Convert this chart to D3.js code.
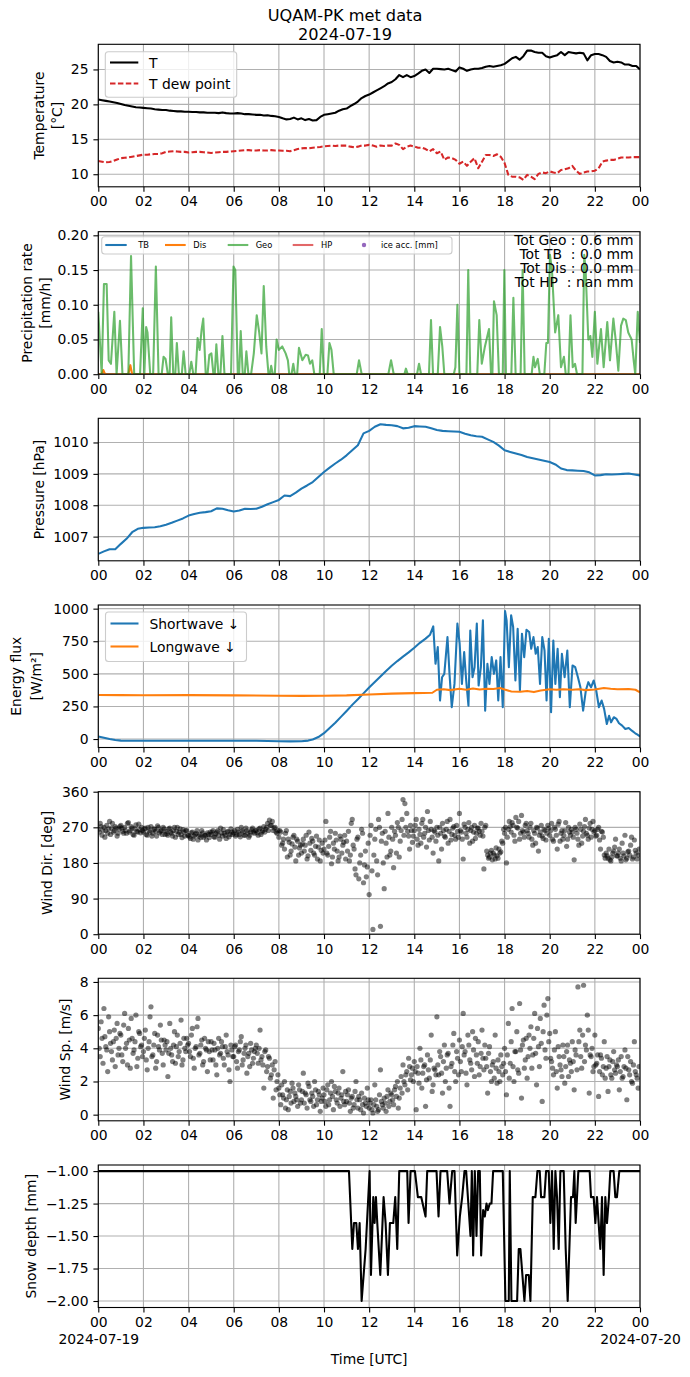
<!DOCTYPE html>
<html>
<head>
<meta charset="utf-8">
<script src="https://cdn.jsdelivr.net/npm/d3@7"></script>
<style>
  body { margin: 0; background: #fff; }
  text { font-family: "DejaVu Sans", sans-serif; fill: #000; }
</style>
</head>
<body>
<svg id="chart" width="690" height="1377"></svg>
<script>
// ---- data ----
const titleLines = ["UQAM-PK met data", "2024-07-19"];
const hourTicks = [0, 2, 4, 6, 8, 10, 12, 14, 16, 18, 20, 22, 24];

// air temperature and dew point, every 10 min from 00 to 24 UTC
const tempT = [
  20.7, 20.6, 20.5, 20.4, 20.3, 20.2,
  20.05, 19.9, 19.8, 19.7, 19.6, 19.55,
  19.5, 19.45, 19.4, 19.3, 19.25, 19.2,
  19.2, 19.1, 19.05, 19.0, 19.0, 18.95,
  18.95, 18.9, 18.9, 18.85, 18.85, 18.8,
  18.8, 18.8, 18.75, 18.85, 18.75, 18.7,
  18.7, 18.75, 18.7, 18.6, 18.6, 18.55,
  18.5, 18.5, 18.4, 18.45, 18.35, 18.3,
  18.2, 18.0, 17.85, 17.9, 18.1, 17.85,
  18.0, 17.75, 17.9, 17.7, 17.75, 18.2,
  18.5, 18.6, 18.7, 18.8, 19.1, 19.3,
  19.4, 19.75, 20.05, 20.4, 20.9, 21.2,
  21.4, 21.7, 22.0, 22.3, 22.6, 23.0,
  23.2, 23.6, 24.2, 23.9, 24.2, 23.9,
  24.05, 24.4, 24.8, 25.0, 24.5, 25.1,
  25.1, 25.05, 25.0, 25.1, 24.9, 24.7,
  25.3, 25.1, 24.8, 25.0, 25.1, 25.1,
  25.2, 25.4, 25.5, 25.4, 25.5, 25.6,
  25.8, 26.2, 26.6, 26.8, 26.4, 26.9,
  27.7, 27.7, 27.5, 27.4, 27.4, 26.9,
  26.7, 26.9, 27.05, 27.5, 27.05, 27.5,
  27.4, 27.3, 27.4, 27.3, 26.3, 27.05,
  27.2, 27.2, 27.05, 26.8, 26.2, 26.0,
  26.1, 26.0, 25.7, 25.7, 25.5, 25.5,
  25.0
];
const tempDew = [
  11.9, 11.8, 11.7, 11.75, 11.9, 12.1,
  12.3, 12.35, 12.4, 12.5, 12.6, 12.7,
  12.8, 12.8, 12.85, 12.9, 12.9, 13.0,
  13.2, 13.25, 13.3, 13.25, 13.2, 13.2,
  13.1, 13.15, 13.2, 13.2, 13.15, 13.1,
  13.05, 13.1, 13.15, 13.2, 13.2, 13.25,
  13.3, 13.35, 13.4, 13.45, 13.45, 13.4,
  13.4, 13.45, 13.4, 13.4, 13.45, 13.4,
  13.4, 13.35, 13.35, 13.3, 13.45, 13.6,
  13.7, 13.75, 13.7, 13.8, 13.85, 13.9,
  14.0, 14.05, 14.1, 14.05, 14.1, 14.1,
  14.1, 13.95, 13.85, 13.95, 14.1, 14.1,
  14.2, 14.1, 13.95, 14.1, 14.05, 14.1,
  14.1, 14.4, 14.2, 13.6, 13.95, 14.1,
  13.95, 13.8, 13.8, 13.6, 13.25, 13.6,
  13.0, 13.25, 12.05, 12.4, 12.3, 12.05,
  11.5, 11.8, 11.2, 11.8, 12.3, 10.85,
  11.8, 12.75, 12.75, 12.6, 12.85, 12.5,
  11.6, 9.9, 9.65, 9.65, 9.55, 9.2,
  9.9, 9.65, 9.3, 10.05, 10.25, 10.15,
  10.4, 10.25, 10.15, 10.6, 10.7, 10.85,
  11.2, 10.5, 10.05, 10.25, 10.4, 10.4,
  10.5, 10.85, 11.8, 11.95, 12.05, 12.05,
  12.2, 12.4, 12.4, 12.4, 12.45, 12.45,
  12.45
];

// precipitation rate [hour, mm/h]
const tbPoints = [[0, 0], [24, 0]];
const disPoints = [[0, 0], [0.15, 0], [0.22, 0.006], [0.3, 0], [1.33, 0], [1.42, 0.013], [1.5, 0], [24, 0]];
const geoPoints = [
  [0, 0.09], [0.15, 0], [0.25, 0.13], [0.37, 0.13], [0.46, 0.02], [0.56, 0.015], [0.71, 0.09], [0.81, 0],
  [0.96, 0.077], [1.07, 0], [1.33, 0], [1.45, 0.17], [1.59, 0], [1.85, 0], [1.97, 0.095], [2.04, 0],
  [2.12, 0.068], [2.18, 0.06], [2.30, 0], [2.43, 0], [2.55, 0.155], [2.67, 0], [2.81, 0], [2.89, 0.025],
  [2.98, 0.022], [3.08, 0], [3.16, 0], [3.23, 0.082], [3.32, 0], [3.41, 0], [3.48, 0.045], [3.57, 0],
  [3.70, 0], [3.78, 0.033], [3.87, 0], [4.03, 0], [4.12, 0.018], [4.21, 0], [4.31, 0], [4.40, 0.052],
  [4.49, 0.035], [4.58, 0.065], [4.65, 0.08], [4.76, 0], [4.84, 0], [4.92, 0.028], [5.01, 0.03], [5.10, 0],
  [5.16, 0], [5.23, 0.043], [5.32, 0], [5.41, 0], [5.50, 0.055], [5.59, 0], [5.88, 0], [5.99, 0.155],
  [6.07, 0.15], [6.18, 0], [6.24, 0], [6.31, 0.062], [6.40, 0], [6.49, 0], [6.56, 0.033], [6.65, 0],
  [6.77, 0], [6.89, 0.03], [7.02, 0.085], [7.13, 0.06], [7.23, 0.03], [7.33, 0.127], [7.44, 0.04], [7.54, 0],
  [7.60, 0], [7.66, 0.012], [7.73, 0], [7.82, 0], [7.90, 0.05], [8.00, 0.035], [8.15, 0.04], [8.30, 0.03],
  [8.40, 0.02], [8.46, 0], [8.56, 0], [8.64, 0.015], [8.71, 0], [8.81, 0], [8.89, 0.038], [9.04, 0.02],
  [9.19, 0.028], [9.29, 0.027], [9.38, 0.015], [9.48, 0.02], [9.57, 0], [9.81, 0], [9.90, 0.065], [9.99, 0],
  [10.15, 0], [10.24, 0.045], [10.33, 0.035], [10.43, 0], [11.45, 0], [11.55, 0.02], [11.67, 0],
  [12.85, 0], [12.97, 0.02], [13.09, 0], [13.56, 0], [13.63, 0.008], [13.71, 0], [14.12, 0], [14.21, 0.015],
  [14.30, 0], [14.65, 0], [14.74, 0.078], [14.83, 0], [15.04, 0], [15.14, 0.068], [15.24, 0.04], [15.33, 0],
  [15.75, 0], [15.82, 0.01], [15.91, 0.1], [16.00, 0], [16.31, 0], [16.39, 0.15], [16.48, 0], [16.79, 0],
  [16.88, 0.078], [16.99, 0.015], [17.13, 0.04], [17.31, 0.065], [17.40, 0], [17.46, 0], [17.53, 0.105],
  [17.65, 0.085], [17.75, 0], [17.92, 0], [17.99, 0.15], [18.06, 0], [18.30, 0], [18.39, 0.11], [18.49, 0],
  [18.71, 0], [18.80, 0.15], [18.89, 0], [19.20, 0], [19.28, 0.025], [19.35, 0.01], [19.47, 0.022], [19.56, 0],
  [19.76, 0], [19.85, 0.045], [19.92, 0.045], [20.01, 0.172], [20.10, 0.15], [20.24, 0.06], [20.38, 0.085],
  [20.50, 0.01], [20.63, 0.025], [20.71, 0], [20.83, 0], [20.92, 0.085], [21.02, 0.01], [21.12, 0.015],
  [21.21, 0], [21.45, 0], [21.53, 0.172], [21.59, 0.15], [21.71, 0.05], [21.80, 0.055], [21.89, 0.025],
  [22.00, 0.09], [22.11, 0.015], [22.27, 0.065], [22.39, 0.01], [22.55, 0.075], [22.67, 0.02], [22.82, 0.08],
  [22.92, 0.05], [23.04, 0.005], [23.16, 0.07], [23.26, 0.08], [23.37, 0.078], [23.48, 0.06], [23.63, 0.05],
  [23.72, 0.02], [23.79, 0], [23.90, 0.09], [24.00, 0.045]
];
const precipTotals = ["Tot Geo : 0.6 mm", "Tot TB  : 0.0 mm", "Tot Dis : 0.0 mm", "Tot HP  : nan mm"];
const precipLegend = ["TB", "Dis", "Geo", "HP", "ice acc. [mm]"];

// station pressure, every 15 min
const pressure = [
  1006.45, 1006.53, 1006.6, 1006.6, 1006.77, 1006.93, 1007.14, 1007.25,
  1007.28, 1007.29, 1007.3, 1007.33, 1007.38, 1007.44, 1007.51, 1007.58,
  1007.67, 1007.72, 1007.76, 1007.78, 1007.81, 1007.9, 1007.89, 1007.84,
  1007.8, 1007.83, 1007.89, 1007.88, 1007.89, 1007.95, 1008.03, 1008.1,
  1008.17, 1008.31, 1008.29, 1008.4, 1008.53, 1008.63, 1008.74, 1008.9,
  1009.06, 1009.2, 1009.33, 1009.45, 1009.59, 1009.75, 1009.91, 1010.29,
  1010.37, 1010.5, 1010.58, 1010.56, 1010.55, 1010.52, 1010.45, 1010.47,
  1010.52, 1010.51, 1010.5, 1010.45, 1010.4, 1010.37, 1010.36, 1010.35,
  1010.34, 1010.28, 1010.23, 1010.2, 1010.18, 1010.1, 1010.02, 1009.9,
  1009.75, 1009.7, 1009.65, 1009.6, 1009.54, 1009.5, 1009.46, 1009.42,
  1009.38, 1009.3, 1009.17, 1009.12, 1009.11, 1009.1, 1009.09, 1009.05,
  1008.95, 1008.96, 1008.99, 1008.98, 1008.99, 1009.0, 1009.01, 1008.98,
  1008.95
];

// downwelling radiation [hour, W/m2]
const shortwavePoints = [
  [0, 20], [0.25, 10], [0.5, 0], [0.75, -8], [1, -12], [2, -13], [4, -13], [6, -13], [7, -13],
  [8, -17], [8.5, -18], [9, -17], [9.3, -12], [9.5, -3], [9.75, 15], [10, 45], [10.25, 85],
  [10.5, 125], [10.75, 170], [11, 215], [11.25, 262], [11.5, 305], [11.75, 350], [12, 395],
  [12.25, 437], [12.5, 480], [12.75, 522], [13, 562], [13.25, 598], [13.5, 632], [13.75, 665],
  [14, 700], [14.25, 738], [14.5, 770], [14.7, 800], [14.84, 864], [14.94, 577], [15.04, 705],
  [15.14, 295], [15.23, 474], [15.33, 500], [15.47, 782], [15.56, 500], [15.66, 244], [15.78, 423],
  [15.91, 885], [16.01, 731], [16.11, 423], [16.21, 667], [16.3, 449], [16.4, 256], [16.48, 833],
  [16.58, 474], [16.67, 551], [16.77, 885], [16.85, 410], [16.95, 551], [17.04, 910], [17.14, 218],
  [17.24, 577], [17.33, 423], [17.43, 628], [17.53, 500], [17.63, 603], [17.72, 295], [17.82, 628],
  [17.92, 244], [18.02, 982], [18.09, 910], [18.19, 551], [18.29, 949], [18.38, 859], [18.48, 449],
  [18.58, 846], [18.68, 372], [18.77, 808], [18.87, 628], [18.97, 838], [19.09, 821], [19.18, 692],
  [19.28, 782], [19.38, 654], [19.47, 705], [19.57, 423], [19.67, 782], [19.77, 679], [19.86, 295],
  [19.96, 769], [20.06, 205], [20.16, 756], [20.25, 423], [20.35, 692], [20.45, 320], [20.54, 654],
  [20.66, 474], [20.78, 679], [20.89, 244], [21.01, 564], [21.13, 551], [21.25, 474], [21.36, 397],
  [21.48, 218], [21.6, 372], [21.71, 436], [21.83, 397], [21.95, 449], [22.06, 372], [22.18, 244],
  [22.3, 295], [22.41, 231], [22.53, 115], [22.63, 179], [22.72, 128], [22.84, 167], [22.96, 154],
  [23.07, 121], [23.21, 103], [23.35, 77], [23.5, 85], [23.64, 64], [23.79, 44], [23.89, 33], [24, 20]
];
const longwavePoints = [
  [0, 338], [1, 337], [2, 336], [4, 337], [6, 335], [8, 332], [9, 331], [10, 332], [11, 335],
  [12, 342], [13, 348], [14, 352], [14.8, 355], [15, 378], [15.3, 382], [15.6, 375], [16, 385],
  [16.3, 378], [16.6, 388], [16.9, 380], [17.2, 386], [17.5, 384], [17.8, 392], [18, 380],
  [18.3, 365], [18.7, 362], [19, 368], [19.3, 360], [19.6, 372], [20, 382], [20.3, 378],
  [20.6, 382], [21, 378], [21.3, 382], [21.6, 375], [22, 380], [22.2, 386], [22.4, 392],
  [22.7, 386], [23, 382], [23.5, 384], [23.8, 378], [24, 358]
];

// wind direction [deg] and speed [m/s]: samples on the 5-min mark ...
const windDir = [
  265, 280, 250, 270, 262, 255, 285, 268, 258, 272, 248, 266,
  275, 260, 270, 255, 282, 262, 268, 250, 276, 258, 264, 270,
  258, 268, 250, 262, 272, 255, 265, 248, 270, 260, 252, 266,
  260, 250, 268, 255, 262, 245, 270, 258, 252, 264, 248, 262,
  250, 242, 258, 248, 255, 238, 252, 262, 245, 250, 256, 244,
  252, 262, 245, 258, 250, 268, 248, 255, 242, 260, 252, 258,
  256, 248, 265, 252, 270, 258, 250, 262, 245, 258, 268, 255,
  262, 250, 268, 258, 272, 265, 280, 288, 275, 262, 270, 255,
  245, 258, 230, 215, 262, 240, 200, 228, 250, 185, 235, 218,
  205, 240, 225, 190, 258, 212, 235, 200, 248, 220, 185, 230,
  215, 285, 200, 245, 178, 230, 255, 210, 195, 240, 225, 250,
  235, 260, 200, 290, 215, 150, 245, 180, 265, 130, 210, 170,
  100, 275, 12, 240, 185, 290, 20, 255, 115, 230, 305, 200,
  270, 168, 250, 282, 195, 262, 340, 330, 305, 248, 275, 232,
  262, 290, 225, 252, 280, 245, 270, 310, 238, 265, 205, 258,
  270, 185, 255, 280, 248, 265, 230, 290, 252, 272, 240, 260,
  305, 258, 190, 270, 245, 282, 262, 235, 275, 255, 268, 250,
  260, 165, 275, 200, 195, 212, 205, 190, 198, 215, 208, 230,
  255, 180, 265, 272, 282, 250, 295, 268, 240, 300, 258, 275,
  262, 245, 280, 225, 255, 270, 210, 258, 248, 265, 238, 275,
  250, 280, 235, 265, 215, 285, 255, 240, 262, 222, 270, 250,
  258, 188, 265, 240, 278, 230, 260, 290, 250, 268, 245, 285,
  262, 250, 270, 215, 258, 200, 205, 192, 188, 195, 210, 240,
  198, 215, 185, 205, 250, 192, 210, 225, 190, 238, 205, 200
];
// ... and the samples 2.5 min later
const windDirMid = [
  258, 272, 262, 245, 275, 266, 252, 280, 262, 268, 255, 272,
  268, 255, 262, 280, 258, 272, 252, 266, 260, 278, 256, 262,
  266, 252, 270, 258, 248, 266, 260, 274, 256, 262, 270, 252,
  254, 266, 258, 248, 270, 260, 252, 266, 244, 258, 262, 250,
  246, 256, 240, 252, 262, 248, 244, 256, 250, 238, 252, 258,
  258, 246, 254, 262, 240, 256, 264, 250, 258, 246, 266, 252,
  262, 252, 258, 246, 262, 250, 268, 256, 250, 264, 258, 262,
  256, 266, 252, 262, 258, 270, 262, 275, 285, 268, 258, 262,
  262, 225, 240, 255, 195, 232, 210, 245, 220, 240, 200, 225,
  228, 210, 250, 198, 230, 242, 205, 222, 190, 238, 212, 205,
  238, 205, 222, 260, 195, 215, 238, 185, 248, 205, 232, 190,
  210, 185, 280, 225, 165, 240, 140, 200, 255, 175, 145, 230,
  250, 160, 200, 265, 150, 270, 235, 180, 260, 195, 245, 210,
  240, 260, 205, 270, 235, 290, 250, 270, 260, 215, 262, 248,
  275, 240, 265, 230, 290, 255, 220, 262, 285, 245, 262, 235,
  250, 270, 215, 262, 245, 285, 260, 238, 268, 250, 275, 245,
  262, 240, 278, 255, 265, 230, 270, 258, 242, 268, 260, 280,
  248, 270, 210, 192, 205, 188, 200, 218, 192, 205, 235, 265,
  270, 245, 285, 258, 275, 235, 270, 285, 255, 262, 245, 280,
  255, 270, 240, 262, 230, 268, 250, 275, 242, 262, 255, 268,
  262, 240, 270, 250, 278, 235, 262, 250, 282, 240, 258, 265,
  245, 270, 255, 225, 265, 248, 272, 255, 240, 280, 265, 258,
  248, 265, 238, 260, 245, 192, 198, 215, 185, 205, 220, 198,
  205, 192, 230, 198, 188, 208, 200, 245, 195, 212, 190, 215
];
const windSpeed = [
  5.2, 3.5, 4.6, 6.4, 4.1, 2.6, 5.0, 3.8, 4.4, 2.9, 5.5, 4.0,
  4.8, 3.2, 6.1, 4.3, 5.2, 2.8, 4.6, 3.9, 6.0, 3.4, 4.9, 4.2,
  3.8, 5.1, 2.7, 4.4, 6.5, 3.6, 4.9, 3.2, 4.1, 5.4, 3.7, 4.5,
  3.9, 2.3, 5.5, 3.6, 4.2, 3.1, 4.8, 3.8, 5.7, 3.3, 4.0, 4.6,
  4.3, 3.5, 5.2, 2.8, 4.1, 5.8, 3.7, 4.5, 3.2, 4.0, 2.6, 3.8,
  4.4, 3.3, 3.9, 2.4, 4.6, 3.7, 4.1, 3.0, 4.8, 3.6, 2.0, 3.9,
  3.5, 4.2, 2.8, 3.9, 4.7, 3.3, 4.0, 2.5, 3.7, 4.3, 3.1, 3.8,
  4.2, 3.1, 5.1, 3.5, 1.6, 3.9, 2.9, 3.4, 2.4, 1.0, 3.2, 2.0,
  1.6, 0.6, 1.2, 2.0, 0.9, 0.3, 1.4, 1.9, 0.8, 1.1, 0.5, 1.5,
  0.9, 2.5, 1.3, 0.4, 1.7, 0.8, 1.1, 2.0, 0.6, 1.4, 0.2, 1.0,
  1.2, 0.5, 1.8, 0.9, 2.0, 0.3, 1.4, 0.7, 1.6, 1.0, 2.6, 0.6,
  0.8, 1.5, 0.2, 1.1, 0.6, 2.0, 0.4, 0.9, 1.3, 0.1, 0.7, 1.6,
  0.4, 0.9, 0.1, 1.8, 0.5, 0.3, 2.7, 0.6, 1.0, 0.2, 1.5, 0.8,
  1.2, 0.6, 1.7, 2.0, 1.0, 2.3, 3.0, 1.8, 2.6, 3.4, 2.1, 2.8,
  3.2, 0.3, 2.5, 4.0, 1.6, 2.9, 0.5, 3.6, 2.2, 4.8, 1.8, 2.7,
  5.9, 2.4, 3.5, 1.3, 4.2, 2.8, 3.7, 0.5, 3.1, 4.9, 2.0, 3.4,
  4.5, 2.6, 6.1, 3.8, 1.8, 4.2, 3.1, 5.0, 2.3, 3.6, 4.4, 2.9,
  5.1, 2.7, 3.4, 1.3, 4.1, 2.0, 3.2, 4.8, 1.9, 2.6, 3.6, 2.4,
  4.0, 1.2, 5.5, 3.1, 6.4, 2.0, 3.8, 2.7, 6.7, 1.0, 4.5, 3.3,
  2.2, 4.8, 5.3, 3.6, 6.1, 1.8, 4.1, 5.8, 0.8, 6.6, 3.4, 7.0,
  4.9, 3.2, 2.4, 5.0, 1.6, 3.5, 2.7, 4.2, 1.9, 3.8, 2.3, 3.1,
  4.4, 1.5, 3.6, 7.7, 5.1, 2.8, 7.8, 4.2, 6.0, 1.3, 3.5, 2.6,
  4.8, 3.1, 1.1, 3.6, 2.4, 4.4, 2.8, 1.4, 3.3, 2.2, 3.8, 2.5,
  2.9, 1.5, 3.5, 2.3, 3.9, 0.9, 2.7, 3.2, 1.9, 4.4, 2.4, 1.6
];
const windSpeedMid = [
  4.0, 5.6, 3.1, 4.7, 3.9, 5.9, 4.3, 3.3, 5.1, 4.6, 3.6, 4.9,
  3.6, 5.4, 4.0, 3.0, 4.5, 5.8, 3.7, 4.4, 2.9, 5.0, 4.1, 3.5,
  4.6, 3.3, 4.0, 5.9, 3.5, 4.2, 2.8, 4.8, 3.9, 4.5, 3.0, 4.2,
  4.4, 3.7, 4.0, 3.2, 5.0, 4.1, 3.5, 4.3, 3.0, 4.6, 3.8, 4.2,
  3.8, 4.8, 3.4, 4.0, 5.3, 3.6, 4.2, 3.0, 4.6, 3.9, 4.4, 3.3,
  3.9, 4.3, 3.0, 4.0, 3.6, 4.4, 3.4, 4.1, 3.8, 2.7, 4.2, 3.5,
  4.1, 3.2, 3.8, 4.4, 3.0, 3.7, 4.2, 3.5, 2.9, 3.9, 3.4, 4.0,
  3.7, 4.0, 3.3, 3.0, 3.8, 2.6, 3.5, 2.2, 3.0, 2.7, 1.5, 2.4,
  1.2, 1.8, 1.0, 0.4, 1.5, 1.1, 0.7, 1.6, 1.3, 0.9, 1.8, 0.7,
  1.4, 0.7, 1.2, 1.9, 0.9, 1.3, 0.5, 1.5, 0.9, 1.2, 0.8, 1.6,
  0.8, 1.5, 0.6, 1.3, 1.1, 1.7, 0.9, 1.3, 0.5, 1.2, 0.8, 1.4,
  1.2, 0.7, 1.0, 0.4, 1.4, 0.9, 1.1, 0.3, 0.6, 1.0, 0.5, 0.9,
  0.7, 0.3, 0.6, 0.9, 0.2, 1.2, 0.8, 0.4, 0.7, 1.1, 0.5, 1.3,
  0.9, 1.5, 1.1, 0.4, 1.6, 1.3, 2.0, 2.4, 1.5, 2.9, 2.4, 2.0,
  2.6, 2.9, 1.9, 3.3, 2.5, 3.0, 2.1, 2.7, 3.3, 1.4, 2.8, 2.4,
  3.0, 3.8, 2.5, 3.2, 2.0, 3.6, 1.6, 2.9, 4.2, 2.6, 3.8, 2.4,
  3.2, 4.1, 3.6, 2.5, 4.8, 3.3, 2.7, 3.9, 4.6, 3.1, 2.4, 3.7,
  3.4, 4.2, 2.9, 3.7, 2.6, 3.0, 2.2, 2.8, 3.3, 2.0, 2.9, 3.1,
  2.6, 3.6, 2.2, 4.4, 2.9, 3.8, 5.0, 2.5, 3.9, 4.2, 2.8, 4.6,
  3.5, 4.0, 2.8, 4.6, 3.7, 5.2, 2.9, 4.3, 5.0, 3.9, 6.0, 4.4,
  3.4, 2.8, 3.9, 2.6, 4.1, 3.0, 2.3, 3.5, 2.9, 4.2, 3.3, 2.6,
  3.2, 3.9, 2.7, 4.4, 3.5, 4.8, 3.2, 3.9, 5.1, 3.6, 4.0, 2.9,
  3.0, 3.6, 2.6, 3.4, 2.9, 2.2, 3.5, 2.9, 2.4, 3.2, 2.7, 3.0,
  3.3, 2.6, 2.2, 2.9, 2.8, 3.5, 2.4, 2.0, 3.0, 2.6, 2.2, 2.9
];

// snow depth [hour, mm]
const snowPoints = [
  [0, -1], [11.106, -1], [11.254, -1.6], [11.327, -1.4], [11.431, -1.4], [11.504, -1.6], [11.578, -1.4],
  [11.667, -2.0], [11.844, -1.6], [12.021, -1.0], [12.080, -1.8], [12.183, -1.2], [12.242, -1.4],
  [12.301, -1.2], [12.360, -1.4], [12.493, -1.8], [12.640, -1.2], [12.729, -1.4], [12.832, -1.8],
  [12.920, -1.4], [13.068, -1.4], [13.156, -1.2], [13.245, -1.6], [13.333, -1.0], [13.687, -1.0],
  [13.746, -1.4], [13.835, -1.0], [14.027, -1.0], [14.159, -1.2], [14.307, -1.2], [14.499, -1.35],
  [14.572, -1.0], [14.985, -1.0], [15.074, -1.35], [15.162, -1.0], [15.457, -1.0], [15.560, -1.25],
  [15.678, -1.0], [15.782, -1.0], [15.900, -1.65], [16.018, -1.35], [16.121, -1.2], [16.224, -1.0],
  [16.298, -1.0], [16.490, -1.5], [16.549, -1.0], [16.608, -1.65], [16.681, -1.0], [16.755, -1.5],
  [16.829, -1.0], [16.903, -1.0], [16.962, -1.65], [17.050, -1.3], [17.124, -1.35], [17.198, -1.25],
  [17.257, -1.3], [17.345, -1.25], [17.419, -1.25], [17.493, -1.0], [17.920, -1.0], [18.038, -2.0],
  [18.186, -2.0], [18.230, -1.0], [18.304, -2.0], [18.555, -2.0], [18.628, -1.6], [18.702, -1.6],
  [18.879, -2.0], [18.953, -1.8], [19.071, -1.8], [19.145, -2.0], [19.248, -1.2], [19.366, -1.2],
  [19.454, -1.0], [19.558, -1.0], [19.617, -1.2], [19.764, -1.2], [19.838, -1.0], [19.956, -1.0],
  [20.029, -1.4], [20.103, -1.0], [20.177, -1.6], [20.251, -1.0], [20.324, -1.2], [20.398, -1.6],
  [20.472, -1.0], [20.619, -1.0], [20.708, -1.6], [20.796, -2.0], [20.944, -1.2], [21.032, -1.2],
  [21.091, -1.0], [21.150, -1.4], [21.268, -1.0], [21.652, -1.0], [21.770, -1.0], [21.829, -1.2],
  [21.947, -1.2], [22.021, -1.4], [22.094, -1.2], [22.168, -1.4], [22.242, -1.6], [22.316, -1.2],
  [22.389, -1.8], [22.463, -1.2], [22.537, -1.4], [22.625, -1.2], [22.684, -1.0], [22.832, -1.0],
  [22.906, -1.2], [22.979, -1.2], [23.083, -1.0], [24, -1.0]
];

// ---- layout ----
const svg = d3.select("#chart");
const left = 98.3, right = 640;
const panelTop = [44.3, 231.7, 418.3, 605, 791.7, 978.3, 1165];
const panelH = 142.5;
const fs = 13.9;
const tick = 4.9;
const x = d3.scaleLinear().domain([0, 24]).range([left, right]);

const C = { blue: "#1f77b4", orange: "#ff7f0e", green: "#2ca02c", red: "#d62728", purple: "#9467bd" };

svg.append("rect").attr("width", 690).attr("height", 1377).attr("fill", "#fff");

svg.selectAll("text.title").data(titleLines).join("text")
    .attr("class", "title")
    .attr("x", 345).attr("y", (d, i) => 21 + i * 18.5)
    .attr("text-anchor", "middle")
    .attr("font-size", 16.2)
    .text(d => d);

function makePanel(i, yDomain, yTicks, yFmt) {
    const top = panelTop[i], bottom = top + panelH;
    const y = d3.scaleLinear().domain(yDomain).range([bottom, top]);
    const g = svg.append("g").attr("class", `panel p${i}`);

    g.append("clipPath").attr("id", `clip${i}`).append("rect")
        .attr("x", left).attr("y", top).attr("width", right - left).attr("height", panelH);

    // grid first, then data, then axes on top
    const grid = g.append("g").attr("stroke", "#b0b0b0").attr("stroke-width", 1.1);
    grid.selectAll("line.gx").data(hourTicks).join("line").attr("class", "gx")
        .attr("x1", d => x(d)).attr("x2", d => x(d)).attr("y1", top).attr("y2", bottom);
    grid.selectAll("line.gy").data(yTicks).join("line").attr("class", "gy")
        .attr("x1", left).attr("x2", right).attr("y1", d => y(d)).attr("y2", d => y(d));

    const plot = g.append("g").attr("clip-path", `url(#clip${i})`);
    const axes = g.append("g");

    const ax = axes.append("g").attr("transform", `translate(0,${bottom})`)
        .call(d3.axisBottom(x).tickValues(hourTicks)
            .tickFormat(d => d3.format("02d")(d % 24))
            .tickSize(tick).tickPadding(tick));
    const ay = axes.append("g").attr("transform", `translate(${left},0)`)
        .call(d3.axisLeft(y).tickValues(yTicks).tickFormat(yFmt)
            .tickSize(tick).tickPadding(tick));
    [ax, ay].forEach(a => {
        a.select(".domain").remove();
        a.attr("font-size", fs).attr("font-family", "DejaVu Sans, sans-serif");
        a.selectAll("line").attr("stroke", "#000").attr("stroke-width", 1.1);
    });

    axes.append("rect")
        .attr("x", left).attr("y", top).attr("width", right - left).attr("height", panelH)
        .attr("fill", "none").attr("stroke", "#000").attr("stroke-width", 1.1);

    return { g, y, plot, axes, ax, top, bottom };
}

function yLabel(p, lines, xs) {
    const cy = p.top + panelH / 2;
    lines.forEach((t, k) => {
        p.axes.append("text")
            .attr("transform", `translate(${xs[k]},${cy}) rotate(-90)`)
            .attr("text-anchor", "middle")
            .attr("dy", "0.35em")
            .attr("font-size", fs)
            .text(t);
    });
}

function legendBox(p, x0, y0, w, h) {
    p.axes.append("rect")
        .attr("x", x0).attr("y", y0).attr("width", w).attr("height", h).attr("rx", 3)
        .attr("fill", "#fff").attr("fill-opacity", 0.8)
        .attr("stroke", "#cccccc").attr("stroke-width", 1.1);
}

function drawLine(p, pts, color, width, extra) {
    const line = d3.line().x(d => x(d[0])).y(d => p.y(d[1]));
    const path = p.plot.append("path").datum(pts)
        .attr("d", line).attr("fill", "none")
        .attr("stroke", color).attr("stroke-width", width)
        .attr("stroke-linejoin", "round");
    if (extra) extra(path);
    return path;
}

function drawDots(p, pts) {
    p.plot.append("g").selectAll("circle").data(pts).join("circle")
        .attr("cx", d => x(d[0])).attr("cy", d => p.y(d[1])).attr("r", 2.6)
        .attr("fill", "#000").attr("fill-opacity", 0.5);
}

const every = (arr, step, offset = 0) => arr.map((v, i) => [offset + i * step, v]);

// ---- 1. temperature ----
const p1 = makePanel(0, [8.2, 28.6], [10, 15, 20, 25], d3.format("d"));
drawLine(p1, every(tempT, 1 / 6), "#000", 2.08);
drawLine(p1, every(tempDew, 1 / 6), C.red, 2.08, s => s.attr("stroke-dasharray", "5.5,2.4"));
yLabel(p1, ["Temperature", "[°C]"], [39.5, 57.5]);
legendBox(p1, 105.3, 51.7, 131.4, 45.6);
[["T", "#000", null], ["T dew point", C.red, "5.5,2.4"]].forEach(([t, c, dash], k) => {
    const yy = 62.5 + k * 21;
    p1.axes.append("line").attr("x1", 110).attr("x2", 138.3).attr("y1", yy).attr("y2", yy)
        .attr("stroke", c).attr("stroke-width", 2.08).attr("stroke-dasharray", dash);
    p1.axes.append("text").attr("x", 149).attr("y", yy).attr("dy", "0.36em")
        .attr("font-size", fs).text(t);
});

// ---- 2. precipitation ----
const p2 = makePanel(1, [0, 0.2052], [0, 0.05, 0.10, 0.15, 0.20], d3.format(".2f"));
drawLine(p2, tbPoints, C.blue, 2.08);
drawLine(p2, disPoints, C.orange, 2.08);
drawLine(p2, geoPoints, C.green, 2.08, s => s.attr("stroke-opacity", 0.7));
yLabel(p2, ["Precipitation rate", "[mm/h]"], [27.5, 45.5]);
legendBox(p2, 101.7, 236.7, 350.3, 17.3);
const legHandles = [[105.3, 126.7, 138.3, C.blue, 1], [165, 185.7, 193.3, C.orange, 1],
                    [227.7, 248.3, 255.7, C.green, 0.7], [292.7, 313.3, 321, C.red, 0.7]];
legHandles.forEach(([a, b, tx, c, op], k) => {
    p2.axes.append("line").attr("x1", a).attr("x2", b).attr("y1", 245).attr("y2", 245)
        .attr("stroke", c).attr("stroke-opacity", op).attr("stroke-width", 2.08);
    p2.axes.append("text").attr("x", tx).attr("y", 245).attr("dy", "0.36em")
        .attr("font-size", 8.3).text(precipLegend[k]);
});
p2.axes.append("circle").attr("cx", 364).attr("cy", 245).attr("r", 2.2).attr("fill", C.purple);
p2.axes.append("text").attr("x", 381).attr("y", 245).attr("dy", "0.36em")
    .attr("font-size", 8.3).text(precipLegend[4]);
p2.axes.selectAll("text.tot").data(precipTotals).join("text").attr("class", "tot")
    .attr("x", 633.5).attr("y", (d, k) => 239.5 + k * 14).attr("dy", "0.36em")
    .attr("text-anchor", "end").attr("font-size", 13.9)
    .style("white-space", "pre")
    .text(d => d);

// ---- 3. pressure ----
const p3 = makePanel(2, [1006.23, 1010.77], [1007, 1008, 1009, 1010], d3.format("d"));
drawLine(p3, every(pressure, 0.25), C.blue, 2.08);
yLabel(p3, ["Pressure [hPa]"], [39]);

// ---- 4. radiation ----
const p4 = makePanel(3, [-65, 1028], [0, 250, 500, 750, 1000], d3.format("d"));
drawLine(p4, shortwavePoints, C.blue, 2.08);
drawLine(p4, longwavePoints, C.orange, 2.08);
yLabel(p4, ["Energy flux", "[W/m²]"], [16, 36]);
legendBox(p4, 105.5, 612, 141, 49.5);
[["Shortwave ↓", C.blue], ["Longwave ↓", C.orange]].forEach(([t, c], k) => {
    const yy = 623.5 + k * 23;
    p4.axes.append("line").attr("x1", 110.5).attr("x2", 138.5).attr("y1", yy).attr("y2", yy)
        .attr("stroke", c).attr("stroke-width", 2.08);
    p4.axes.append("text").attr("x", 149.5).attr("y", yy).attr("dy", "0.36em")
        .attr("font-size", fs).text(t);
});

// ---- 5. wind direction ----
const p5 = makePanel(4, [0, 360], [0, 90, 180, 270, 360], d3.format("d"));
drawDots(p5, every(windDir, 1 / 12).concat(every(windDirMid, 1 / 12, 1 / 24)));
yLabel(p5, ["Wind Dir. [deg]"], [47.5]);

// ---- 6. wind speed ----
const p6 = makePanel(5, [-0.37, 8.22], [0, 2, 4, 6, 8], d3.format("d"));
drawDots(p6, every(windSpeed, 1 / 12).concat(every(windSpeedMid, 1 / 12, 1 / 24)));
yLabel(p6, ["Wind Sp. [m/s]"], [65]);

// ---- 7. snow depth ----
const p7 = makePanel(6, [-2.05, -0.953], [-2, -1.75, -1.5, -1.25, -1], d3.format(".2f"));
drawLine(p7, snowPoints, "#000", 2.08);
yLabel(p7, ["Snow depth [mm]"], [31]);

// date under first and last tick of the bottom axis
const dateLabels = ["2024-07-19", "2024-07-20"];
p7.ax.selectAll(".tick text").each(function (d, k, nodes) {
    const idx = k === 0 ? 0 : (k === nodes.length - 1 ? 1 : -1);
    if (idx < 0) return;
    const t = d3.select(this);
    const lab = t.text();
    t.text(null);
    t.append("tspan").attr("x", 0).text(lab);
    t.append("tspan").attr("x", 0).attr("dy", "1.2em").text(dateLabels[idx]);
});
p7.axes.append("text")
    .attr("x", (left + right) / 2).attr("y", 1364)
    .attr("text-anchor", "middle").attr("font-size", fs)
    .text("Time [UTC]");
</script>
</body>
</html>
